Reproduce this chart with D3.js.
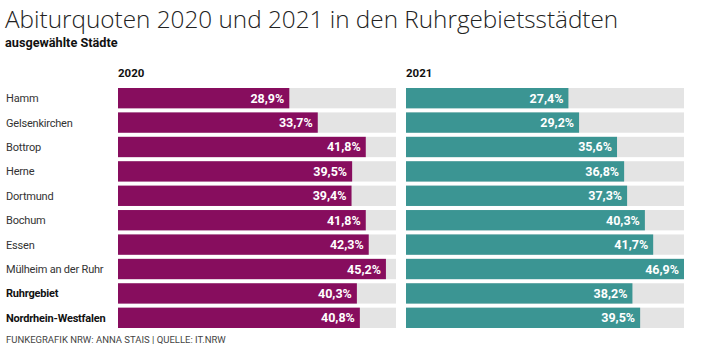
<!DOCTYPE html>
<html>
<head>
<meta charset="utf-8">
<script src="https://cdn.jsdelivr.net/npm/d3@7"></script>
<style>
  body { margin: 0; background: #fff; }
  text { font-family: Roboto, "DejaVu Sans Condensed", sans-serif; }
</style>
</head>
<body>
<div id="chart"></div>
<script>
// Daten
const staedte = ["Hamm", "Gelsenkirchen", "Bottrop", "Herne", "Dortmund", "Bochum", "Essen", "Mülheim an der Ruhr", "Ruhrgebiet", "Nordrhein-Westfalen"]
const fett = ["Ruhrgebiet", "Nordrhein-Westfalen"]
const jahre = ["2020", "2021"]
const werte2020 = [28.9, 33.7, 41.8, 39.5, 39.4, 41.8, 42.3, 45.2, 40.3, 40.8]
const werte2021 = [27.4, 29.2, 35.6, 36.8, 37.3, 40.3, 41.7, 46.9, 38.2, 39.5]

const width = 721, height = 353

const svg = d3.select("#chart")
  .append("svg")
    .attr("width", width)
    .attr("height", height)

// Titel
svg.append("text")
  .attr("x", 5).attr("y", 28)
  .style("font-family", "'Open Sans', sans-serif")
  .style("font-weight", 300)
  .style("font-size", "24.3px")
  .attr("fill", "#222")
  .text("Abiturquoten 2020 und 2021 in den Ruhrgebietsstädten")

svg.append("text")
  .attr("x", 5).attr("y", 47)
  .style("font-weight", "bold")
  .style("font-size", "12.7px")
  .attr("fill", "#111")
  .text("ausgewählte Städte")

// Skalen
const y = d3.scaleBand()
  .domain(staedte)
  .range([88, 328])
  .paddingInner(4 / 24)
  .paddingOuter(0)
  .align(0)

const maxWert = d3.max(werte2020.concat(werte2021))
const panels = [
  { jahr: jahre[0], werte: werte2020, x0: 118, farbe: "#870d5e" },
  { jahr: jahre[1], werte: werte2021, x0: 406, farbe: "#3b9593" }
]
const panelBreite = 278

// Stadtnamen
svg.selectAll(".label")
  .data(staedte)
  .join("text")
    .attr("class", "label")
    .attr("x", 6)
    .attr("y", d => y(d) + y.bandwidth() / 2 + 4)
    .style("font-size", "11px")
    .style("letter-spacing", "-0.2px")
    .style("font-weight", d => fett.includes(d) ? "bold" : "normal")
    .attr("fill", d => fett.includes(d) ? "#111" : "#333")
    .text(d => d)

panels.forEach(p => {
  const x = d3.scaleLinear()
    .domain([0, maxWert])
    .range([p.x0, p.x0 + panelBreite])

  const g = svg.append("g")

  g.append("text")
    .attr("x", p.x0).attr("y", 77)
    .style("font-weight", "bold")
    .style("font-size", "11.5px")
    .attr("fill", "#111")
    .text(p.jahr)

  // Hintergrund
  g.selectAll(".bg")
    .data(staedte)
    .join("rect")
      .attr("x", x(0))
      .attr("y", d => y(d))
      .attr("width", x(maxWert) - x(0))
      .attr("height", y.bandwidth())
      .attr("fill", "#e4e4e4")

  // Balken
  g.selectAll(".bar")
    .data(p.werte)
    .join("rect")
      .attr("x", x(0))
      .attr("y", (d, i) => y(staedte[i]))
      .attr("width", d => x(d) - x(0))
      .attr("height", y.bandwidth())
      .attr("fill", p.farbe)

  g.selectAll(".val")
    .data(p.werte)
    .join("text")
      .attr("x", d => x(d) - 5)
      .attr("y", (d, i) => y(staedte[i]) + y.bandwidth() / 2 + 4.5)
      .attr("text-anchor", "end")
      .style("font-weight", "bold")
      .style("font-size", "12.5px")
      .attr("fill", "#fff")
      .text(d => d.toFixed(1).replace(".", ",") + "%")
})

// Quelle
svg.append("text")
  .attr("x", 6).attr("y", 343)
  .style("font-size", "9.5px")
  .attr("fill", "#444")
  .text("FUNKEGRAFIK NRW: ANNA STAIS | QUELLE: IT.NRW")
</script>
</body>
</html>
